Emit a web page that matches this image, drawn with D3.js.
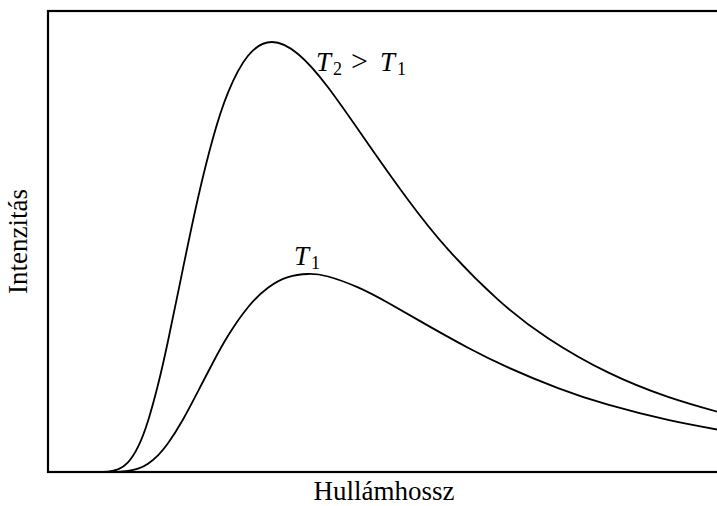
<!DOCTYPE html>
<html>
<head>
<meta charset="utf-8">
<script src="https://cdn.jsdelivr.net/npm/d3@7"></script>
<style>
  html, body { margin: 0; padding: 0; background: #fff; }
  svg text { font-family: "Liberation Serif", "Times New Roman", serif; fill: #000; }
</style>
</head>
<body>
<svg id="chart" width="717" height="506"></svg>
<script>
// Spectral intensity curves at two temperatures (arbitrary units)
const wavelengthT2 = [0.5, 0.6, 0.7, 0.8, 0.9, 1.0, 1.1, 1.2, 1.35, 1.5, 1.65, 1.8, 2.0, 2.24, 2.5, 2.8, 3.2, 3.6, 4.0, 4.5, 5.0, 5.6, 6.2, 6.72];
const intensityT2 = [0, 0.004, 0.026, 0.097, 0.251, 0.511, 0.872, 1.310, 2.036, 2.740, 3.340, 3.794, 4.163, 4.300, 4.180, 3.847, 3.283, 2.723, 2.226, 1.724, 1.338, 0.996, 0.751, 0.595];

const wavelengthT1 = [0.6, 0.7, 0.8, 0.9, 1.0, 1.1, 1.2, 1.35, 1.5, 1.65, 1.8, 2.0, 2.2, 2.4, 2.6, 2.8, 3.1, 3.4, 3.8, 4.2, 4.6, 5.1, 5.6, 6.2, 6.72];
const intensityT1 = [0, 0.002, 0.010, 0.033, 0.083, 0.167, 0.287, 0.525, 0.807, 1.095, 1.362, 1.648, 1.843, 1.949, 1.980, 1.955, 1.846, 1.692, 1.464, 1.243, 1.046, 0.839, 0.673, 0.521, 0.420];

const xLabel = "Hullámhossz";
const yLabel = "Intenzitás";

const svg = d3.select("#chart");
const frame = { left: 48, top: 11, right: 720, bottom: 472 };

const x = d3.scaleLinear().domain([0, 6.72]).range([frame.left, frame.right]);
const y = d3.scaleLinear().domain([0, 4.61]).range([frame.bottom, frame.top]);

svg.append("clipPath").attr("id", "plot-clip")
  .append("rect")
  .attr("x", frame.left).attr("y", frame.top)
  .attr("width", frame.right - frame.left).attr("height", frame.bottom - frame.top);

const line = d3.line()
  .x(d => x(d[0]))
  .y(d => y(d[1]))
  .curve(d3.curveNatural);

const seriesT2 = d3.zip(wavelengthT2, intensityT2);
const seriesT1 = d3.zip(wavelengthT1, intensityT1);

const curves = svg.append("g").attr("clip-path", "url(#plot-clip)");
[seriesT2, seriesT1].forEach(s => {
  curves.append("path")
    .datum(s)
    .attr("d", line)
    .attr("fill", "none")
    .attr("stroke", "#000")
    .attr("stroke-width", 1.8)
    .attr("stroke-linejoin", "round");
});

// Plot frame (right edge runs past the canvas)
svg.append("rect")
  .attr("x", frame.left).attr("y", frame.top)
  .attr("width", frame.right - frame.left).attr("height", frame.bottom - frame.top)
  .attr("fill", "none")
  .attr("stroke", "#000")
  .attr("stroke-width", 2.2);

// Curve labels: each piece placed explicitly (italic T, lowered subscript)
function tempLabel(pieces, baseline) {
  const t = svg.append("text").attr("y", baseline);
  pieces.forEach(p => {
    const ts = t.append("tspan").attr("x", p.x).text(p.text);
    if (p.kind === "var") ts.attr("font-style", "italic").attr("font-size", 27).attr("y", baseline);
    if (p.kind === "sub") ts.attr("font-size", 18).attr("y", baseline + 4);
    if (p.kind === "op") ts.attr("font-size", 30).attr("y", baseline);
  });
  return t;
}

tempLabel([
  { text: "T", kind: "var", x: 316 },
  { text: "2", kind: "sub", x: 333 },
  { text: ">", kind: "op", x: 351 },
  { text: "T", kind: "var", x: 380 },
  { text: "1", kind: "sub", x: 397 }
], 71);

tempLabel([
  { text: "T", kind: "var", x: 294 },
  { text: "1", kind: "sub", x: 311 }
], 265);

// Axis titles
svg.append("text")
  .attr("x", (frame.left + frame.right) / 2)
  .attr("y", 500)
  .attr("text-anchor", "middle")
  .attr("font-size", 27)
  .text(xLabel);

svg.append("text")
  .attr("transform", `translate(27, ${(frame.top + frame.bottom) / 2}) rotate(-90)`)
  .attr("text-anchor", "middle")
  .attr("font-size", 27)
  .text(yLabel);
</script>
</body>
</html>
